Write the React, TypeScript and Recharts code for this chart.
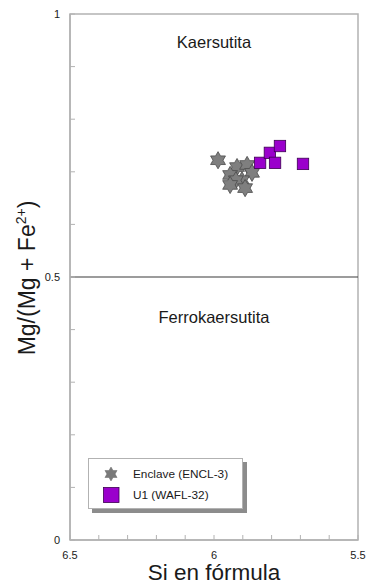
import React from "react";
import {
  ScatterChart, Scatter, XAxis, YAxis, ReferenceLine, ReferenceArea, ReferenceDot, Legend, Label,
} from "recharts";

// Si (apfu) and Mg/(Mg+Fe2+) for each analysed amphibole
const enclaveSi = [5.986, 5.92, 5.885, 5.944, 5.868, 5.903, 5.924, 5.944, 5.892];
const enclaveMg = [0.722, 0.709, 0.713, 0.694, 0.698, 0.684, 0.684, 0.675, 0.669];
const u1Si = [5.84, 5.806, 5.771, 5.788, 5.691];
const u1Mg = [0.717, 0.736, 0.749, 0.717, 0.715];

const siTicks = [6.5, 6.4, 6.3, 6.2, 6.1, 6.0, 5.9, 5.8, 5.7, 5.6, 5.5];
const siLabels = [6.5, 6, 5.5];
const mgTicks = [0, 0.1, 0.2, 0.3, 0.4, 0.5, 0.6, 0.7, 0.8, 0.9, 1];
const mgLabels = [0, 0.5, 1];

const ENCLAVE = "Enclave (ENCL-3)";
const U1 = "U1 (WAFL-32)";

const enclave = enclaveSi.map((si, i) => ({ si, mg: enclaveMg[i] }));
const u1 = u1Si.map((si, i) => ({ si, mg: u1Mg[i] }));

const FRAME = "#b2b2b2";
const TEXT = "#1a1a1a";

function hexagram(cx: number, cy: number, r: number) {
  const pts: string[] = [];
  for (let i = 0; i < 12; i++) {
    const a = ((-90 + i * 30) * Math.PI) / 180;
    const rr = i % 2 === 0 ? r : r * 0.58;
    pts.push(`${cx + rr * Math.cos(a)},${cy + rr * Math.sin(a)}`);
  }
  return pts.join(" ");
}

function StarShape(props: any) {
  const { cx, cy } = props;
  return <polygon points={hexagram(cx, cy, 8.6)} fill="#7f7f7f" stroke="#4a4a4a" strokeWidth={0.8} />;
}

function SquareShape(props: any) {
  const { cx, cy } = props;
  return <rect x={cx - 5.7} y={cy - 5.7} width={11.4} height={11.4} fill="#9a00cc" stroke="#3d0052" strokeWidth={0.8} />;
}

function SiTick(props: any) {
  const { x, y, payload } = props;
  return (
    <g>
      <line x1={x} x2={x} y1={y} y2={y - 5} stroke={FRAME} />
      {siLabels.includes(payload.value) && (
        <text x={x} y={y + 15} dy="0.35em" textAnchor="middle" fontSize={11} fill={TEXT}>
          {payload.value}
        </text>
      )}
    </g>
  );
}

function MgTick(props: any) {
  const { x, y, payload } = props;
  return (
    <g>
      <line x1={x} x2={x + 5} y1={y} y2={y} stroke={FRAME} />
      {mgLabels.includes(payload.value) && (
        <text x={x - 10} y={y} dy="0.35em" textAnchor="end" fontSize={11} fill={TEXT}>
          {payload.value}
        </text>
      )}
    </g>
  );
}

function MgTitle() {
  return (
    <text x={35} y={278} transform="rotate(-90, 35, 278)" textAnchor="middle" fontSize={23} fill={TEXT}>
      Mg/(Mg + Fe
      <tspan dy={-9} fontSize={14}>2+</tspan>
      <tspan dy={9}>)</tspan>
    </text>
  );
}

function SiTitle() {
  return (
    <text x={214} y={580} textAnchor="middle" fontSize={22.5} fill={TEXT}>
      Si en fórmula
    </text>
  );
}

function LegendBox({ payload }: any) {
  const items = payload ?? [];
  return (
    <div
      style={{
        position: "relative",
        width: 153,
        height: 49,
        border: `1px solid ${FRAME}`,
        background: "#fff",
        boxShadow: "4px 4px 0 #8c8c8c",
      }}
    >
      {items.map((entry: any, i: number) => (
        <div
          key={entry.value}
          style={{ position: "absolute", left: 0, top: 15 + i * 21 - 9, height: 18, display: "flex", alignItems: "center" }}
        >
          <svg width={44} height={18} style={{ display: "block" }}>
            {entry.value === ENCLAVE ? (
              <polygon points={hexagram(22, 9, 7)} fill="#7a7a7a" stroke="#6a6a6a" strokeWidth={0.5} />
            ) : (
              <rect x={14.5} y={1.5} width={15.5} height={15} fill="#9a00cc" stroke="#3d0052" strokeWidth={0.8} />
            )}
          </svg>
          <span style={{ fontSize: 11.8, color: TEXT, whiteSpace: "nowrap" }}>{entry.value}</span>
        </div>
      ))}
    </div>
  );
}

export default function App() {
  return (
    <div style={{ position: "absolute", left: 0, top: 0, fontFamily: "'Liberation Sans', Arial, sans-serif" }}>
      <ScatterChart width={367} height={586} margin={{ top: 14, right: 9, bottom: 0, left: 0 }}>
        <XAxis
          type="number"
          dataKey="si"
          domain={[5.5, 6.5]}
          reversed
          ticks={siTicks}
          interval={0}
          tick={<SiTick />}
          tickLine={false}
          tickSize={0}
          tickMargin={0}
          height={46}
          axisLine={{ stroke: FRAME, strokeWidth: 1.5 }}
        >
          <Label content={<SiTitle />} />
        </XAxis>
        <YAxis
          type="number"
          dataKey="mg"
          domain={[0, 1]}
          ticks={mgTicks}
          interval={0}
          tick={<MgTick />}
          tickLine={false}
          tickSize={0}
          tickMargin={0}
          width={70}
          axisLine={{ stroke: FRAME, strokeWidth: 1.5 }}
        >
          <Label content={<MgTitle />} />
        </YAxis>
        <ReferenceArea x1={6.5} x2={5.5} y1={0} y2={1} fill="none" stroke={FRAME} strokeWidth={1.5} />
        <ReferenceLine y={0.5} stroke="#3a3a3a" strokeWidth={1.2} />
        <ReferenceDot
          x={6}
          y={0.947}
          r={0}
          stroke="none"
          fill="none"
          label={{ value: "Kaersutita", position: "center", fontSize: 16.5, fill: TEXT }}
        />
        <ReferenceDot
          x={6}
          y={0.424}
          r={0}
          stroke="none"
          fill="none"
          label={{ value: "Ferrokaersutita", position: "center", fontSize: 16.5, fill: TEXT }}
        />
        <Scatter name={ENCLAVE} data={enclave} fill="#7f7f7f" shape={StarShape} isAnimationActive={false} />
        <Scatter name={U1} data={u1} fill="#9a00cc" shape={SquareShape} isAnimationActive={false} />
        <Legend
          layout="vertical"
          align="center"
          verticalAlign="middle"
          content={<LegendBox />}
          wrapperStyle={{ left: 88, top: 458, width: "auto", height: "auto" }}
        />
      </ScatterChart>
    </div>
  );
}
